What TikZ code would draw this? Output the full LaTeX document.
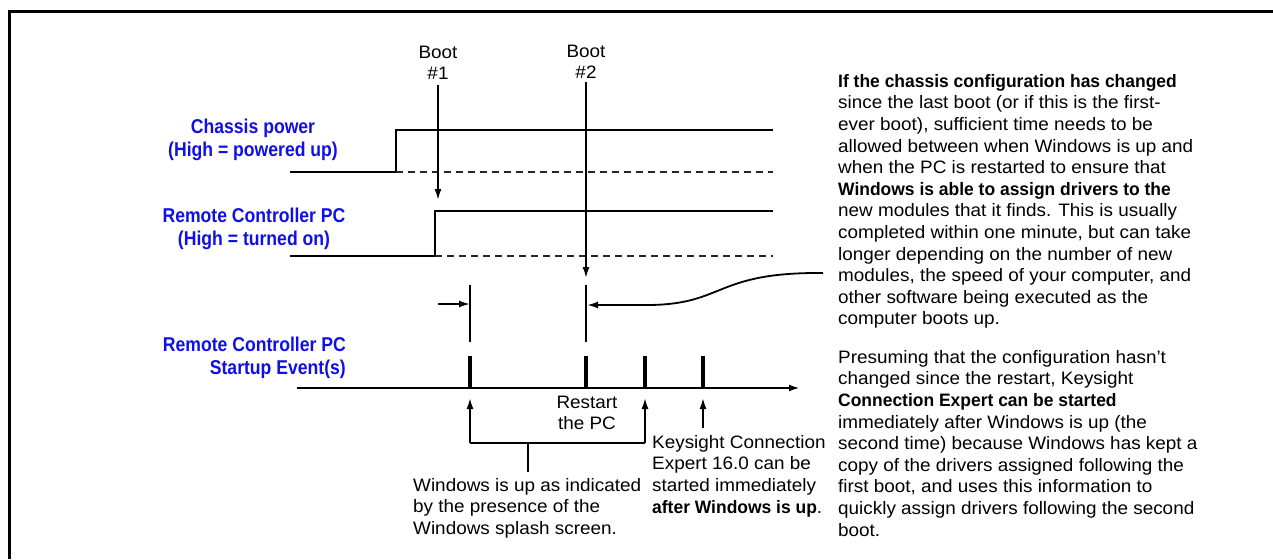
\documentclass[tikz,border=0pt]{standalone}
\usepackage{fontspec}
\setmainfont[FakeStretch=1.05, BoldFeatures={FakeStretch=0.97}]{Liberation Sans}
\newfontfamily\lblfont[FakeStretch=0.88, BoldFeatures={FakeStretch=0.88}]{Liberation Sans}
\usetikzlibrary{arrows.meta}
\definecolor{lblblue}{RGB}{15,15,230}
\tikzset{
  sig/.style={line width=2.6pt},
  dsh/.style={line width=1.4pt, dash pattern=on 7pt off 5pt, black!85},
  tick/.style={line width=4pt},
  thin/.style={line width=1.8pt},
  arr/.style={line width=1.8pt, -{Latex[length=11pt,width=7pt]}},
  body/.style={font=\fontsize{18}{21.6}\selectfont, inner sep=0pt, align=left, anchor=north west},
  blue lbl/.style={font=\lblfont\bfseries\fontsize{20}{23}\selectfont, text=lblblue, inner sep=0pt, align=center, anchor=north},
  center lbl/.style={font=\fontsize{18}{21}\selectfont, inner sep=0pt, align=center, anchor=north},
}
\begin{document}
\begin{tikzpicture}[x=1pt,y=-1pt]
\useasboundingbox (0,0) rectangle (1273,559);
% frame (top and left only)
\draw[line width=3pt] (9.5,559) -- (9.5,12) -- (1273,12);

% Boot labels
\node[center lbl] (boot1) at (438,46) {Boot\\\#1};
\node[center lbl] (boot2) at (586,45) {Boot\\\#2};

% Chassis power signal
\coordinate (cp0) at (290,172);
\coordinate (cpstep) at (396,172);
\coordinate (cphigh) at (396,130);
\coordinate (cpend) at (773,130);
\coordinate (cpdend) at (773,172);
\draw[sig] (cp0) -- (cpstep) -- (cphigh) -- (cpend);
\draw[dsh] (cpstep) -- (cpdend);

% Remote controller signal
\coordinate (rc0) at (290,256);
\coordinate (rcstep) at (435,256);
\coordinate (rchigh) at (435,211);
\coordinate (rcend) at (773,211);
\coordinate (rcdend) at (773,256);
\draw[sig] (rc0) -- (rcstep) -- (rchigh) -- (rcend);
\draw[dsh] (rcstep) -- (rcdend);

% Blue labels
\node[blue lbl] (lcp) at (253,119) {Chassis power\\(High = powered up)};
\node[blue lbl] (lrc) at (254,208) {Remote Controller PC\\(High = turned on)};
\node[font=\lblfont\bfseries\fontsize{20}{23}\selectfont, text=lblblue, inner sep=0pt, align=right, anchor=north east] (lse) at (346,337) {Remote Controller PC\\Startup Event(s)};

% Boot arrows
\coordinate (b1tip) at (438,200);
\coordinate (b2tip) at (586,278);
\draw[arr] (boot1.south |- 0,85) -- (b1tip);
\draw[arr] (boot2.south |- 0,82) -- (b2tip);

% timeline
\coordinate (tl0) at (297,388);
\coordinate (tl1) at (800,388);
\draw[sig, -{Latex[length=11pt,width=7pt]}] (tl0) -- (tl1);

% event ticks
\coordinate (e1) at (470,388);
\coordinate (e2) at (586,388);
\coordinate (e3) at (645,388);
\coordinate (e4) at (703,388);
\foreach \e in {e1,e2,e3,e4}{\draw[tick] (\e) -- ++(0,-32);}

% thin markers above
\draw[thin] (470,285) -- (470,342);
\draw[thin] (586,285) -- (586,342);
\coordinate (sa) at (438,304);
\draw[arr] (sa) -- (470,304);

% curved arrow from paragraph
\coordinate (cv0) at (823,273);
\draw[arr] (cv0) .. controls (715,272) and (725,304) .. (650,305) -- (587,305);

% up arrows and bracket
\coordinate (br1) at (470,443);
\coordinate (br2) at (645,443);
\draw[arr] (br1) -- (470,398);
\draw[arr] (br2) -- (645,398);
\draw[thin] (br1) -- (br2);
\draw[thin] (528,443) -- (528,472);
\draw[arr] (703,428) -- (703,398);

% Restart label
\node[center lbl] (restart) at (587,396) {Restart\\the PC};

% bottom texts
\node[body] (win) at (413,478) {Windows is up as indicated\\by the presence of the\\Windows splash screen.};
\node[body] (kce) at (652,435) {Keysight Connection\\Expert 16.0 can be\\started immediately\\\textbf{after Windows is up}.};

% right paragraphs
\node[body] (p1) at (838,74) {\textbf{If the chassis configuration has changed}\\
since the last boot (or if this is the first-\\
ever boot), sufficient time needs to be\\
allowed between when Windows is up and\\
when the PC is restarted to ensure that\\
\textbf{Windows is able to assign drivers to the}\\
new modules that it finds. This is usually\\
completed within one minute, but can take\\
longer depending on the number of new\\
modules, the speed of your computer, and\\
other software being executed as the\\
computer boots up.};
\node[body] (p2) at (838,350) {Presuming that the configuration hasn’t\\
changed since the restart, Keysight\\
\textbf{Connection Expert can be started}\\
immediately after Windows is up (the\\
second time) because Windows has kept a\\
copy of the drivers assigned following the\\
first boot, and uses this information to\\
quickly assign drivers following the second\\
boot.};
\end{tikzpicture}
\end{document}
